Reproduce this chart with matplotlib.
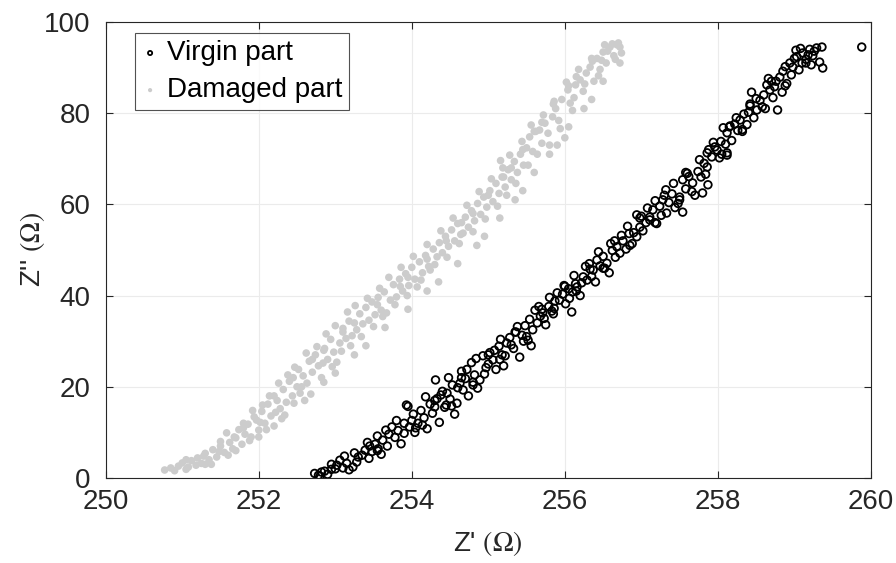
import matplotlib.pyplot as plt

plt.rcParams["font.family"] = ["Liberation Sans", "DejaVu Sans"]
plt.rcParams["mathtext.fontset"] = "stix"

# (Z', Z'') readings for the virgin part
virgin_pts = [
    (252.73, 1.0), (252.78, 0.6), (252.82, 1.3), (252.86, 1.5), (252.80, 0.4), (252.90, 0.8),
    (253.02, 2.8), (253.06, 3.9), (253.10, 2.2), (253.15, 3.2), (253.23, 2.4), (253.18, 1.8),
    (253.28, 3.5), (253.35, 5.0), (253.39, 6.1), (253.30, 4.6), (253.44, 4.3), (253.48, 5.8),
    (253.52, 7.4), (253.56, 6.4), (253.62, 8.3), (253.60, 5.2), (253.68, 7.0), (253.74, 11.2),
    (253.70, 9.6), (253.78, 8.9), (253.82, 10.4), (253.86, 7.5), (253.93, 16.0), (253.95, 15.7),
    (253.97, 11.2), (254.00, 12.6), (254.04, 10.0), (254.08, 12.0), (254.12, 14.8), (254.16, 13.2),
    (254.20, 10.8), (254.24, 16.2), (254.27, 14.2), (254.31, 21.5), (254.33, 17.4), (254.36, 12.2),
    (254.40, 19.0), (254.43, 15.5), (254.46, 18.6), (254.50, 17.3), (254.53, 20.4), (254.56, 14.0),
    (254.59, 16.4), (254.63, 20.8), (254.67, 19.3), (254.65, 23.4), (254.70, 21.8), (254.74, 18.0),
    (254.78, 25.3), (254.82, 22.6), (254.86, 19.7), (254.89, 21.5), (254.93, 26.8), (254.97, 24.2),
    (255.02, 27.5), (255.06, 25.9), (255.10, 23.8), (255.14, 28.9), (255.18, 27.0), (255.24, 29.6),
    (255.20, 24.6), (255.28, 30.8), (255.33, 28.4), (255.36, 32.0), (255.41, 26.5), (255.44, 31.3),
    (255.48, 33.4), (255.52, 30.2), (255.58, 32.5), (255.61, 36.8), (255.64, 34.0), (255.68, 35.5),
    (255.71, 36.2), (255.75, 33.6), (255.79, 37.6), (255.83, 36.6), (255.87, 38.8), (255.93, 39.0),
    (255.97, 40.3), (256.01, 38.2), (256.05, 41.5), (256.09, 36.4), (256.10, 40.8), (256.14, 42.6),
    (256.16, 41.9), (256.20, 40.0), (256.24, 44.1), (256.29, 43.4), (256.33, 45.8), (256.37, 45.6),
    (256.40, 43.0), (256.42, 47.8), (256.46, 46.5), (256.50, 48.6), (256.55, 47.1), (256.58, 45.0),
    (256.62, 49.9), (256.68, 50.7), (256.72, 49.3), (256.76, 52.0), (256.80, 50.2), (256.84, 53.6),
    (256.88, 51.4), (256.94, 52.9), (256.94, 57.7), (256.98, 55.0), (257.02, 54.2), (257.06, 56.0),
    (257.11, 56.6), (257.11, 57.2), (257.15, 58.8), (257.20, 55.8), (257.24, 59.6), (257.28, 61.0),
    (257.33, 58.1), (257.36, 60.4), (257.40, 62.3), (257.44, 59.3), (257.50, 61.6), (257.54, 58.3),
    (257.54, 65.4), (257.58, 63.4), (257.62, 66.1), (257.67, 64.7), (257.70, 62.0), (257.74, 67.2),
    (257.80, 62.5), (257.82, 69.0), (257.86, 68.2), (257.87, 64.3), (257.86, 71.3), (257.92, 70.4),
    (257.96, 72.6), (257.99, 71.9), (258.04, 73.8), (258.07, 76.8), (258.12, 71.3), (258.12, 70.8),
    (258.12, 75.7), (258.18, 74.0), (258.22, 77.6), (258.26, 76.2), (258.29, 78.5), (258.34, 79.8),
    (258.38, 77.5), (258.42, 81.6), (258.44, 84.6), (258.47, 79.0), (258.51, 80.7), (258.55, 82.8),
    (258.60, 84.0), (258.64, 86.2), (258.68, 85.1), (258.72, 83.4), (258.76, 87.0), (258.78, 80.7),
    (258.81, 87.9), (258.85, 89.2), (258.90, 86.5), (258.94, 91.0), (258.98, 90.1), (259.03, 92.4),
    (259.06, 89.5), (259.11, 93.2), (259.15, 91.8), (259.20, 94.0), (259.24, 92.6), (259.29, 94.3),
    (259.36, 94.5), (259.33, 91.2), (259.37, 89.9), (259.88, 94.5),
    (252.95, 1.9), (253.12, 4.8), (253.25, 5.5), (253.42, 7.8), (253.55, 9.2), (253.66, 10.5),
    (253.80, 12.6), (253.90, 9.8), (254.02, 14.0), (254.14, 11.6), (254.18, 17.8), (254.30, 15.6),
    (254.38, 18.2), (254.48, 22.0), (254.52, 15.8), (254.60, 19.8), (254.72, 23.8), (254.80, 20.4),
    (254.84, 26.2), (254.95, 22.8), (255.00, 25.0), (255.08, 28.0), (255.16, 30.4), (255.22, 26.8),
    (255.30, 29.2), (255.38, 33.2), (255.46, 30.0), (255.54, 34.8), (255.56, 29.0), (255.66, 37.6),
    (255.73, 35.0), (255.80, 39.6), (255.86, 37.2), (255.90, 40.6), (255.99, 42.2), (256.06, 39.4),
    (256.12, 44.4), (256.22, 42.8), (256.27, 46.4), (256.35, 44.2), (256.44, 49.6), (256.52, 46.0),
    (256.60, 51.4), (256.66, 48.4), (256.74, 53.2), (256.82, 55.2), (256.90, 53.8), (257.00, 57.4),
    (257.08, 59.2), (257.18, 60.8), (257.26, 57.6), (257.32, 63.2), (257.42, 64.6), (257.48, 60.2),
    (257.60, 66.8), (257.66, 62.8), (257.76, 69.8), (257.84, 66.6), (257.94, 73.6), (258.02, 70.2),
    (258.10, 73.2), (258.16, 77.2), (258.24, 79.0), (258.32, 76.4), (258.40, 80.2), (258.50, 83.2),
    (258.58, 81.4), (258.66, 87.6), (258.74, 85.8), (258.84, 84.6), (258.88, 90.2), (258.96, 88.4),
    (259.02, 93.8), (259.10, 91.0), (259.18, 92.8), (259.26, 93.6), (259.08, 94.2), (259.22, 90.6),
    (252.95, 3.0), (253.45, 7.0), (253.90, 12.0), (254.30, 17.0), (254.65, 22.0), (255.00, 27.0),
    (255.35, 32.0), (255.70, 37.0), (256.00, 42.0), (256.32, 47.0), (256.65, 52.0), (256.98, 57.0),
    (257.30, 62.0), (257.58, 67.0), (257.88, 72.0), (258.15, 77.0), (258.42, 82.0), (258.70, 87.0),
    (259.00, 92.0), (253.00, 2.0), (253.55, 6.0), (254.05, 11.0), (254.45, 16.0), (254.80, 21.0),
    (255.15, 26.0), (255.50, 31.0), (255.85, 36.0), (256.15, 41.0), (256.50, 46.0), (256.85, 51.0),
    (257.18, 56.0), (257.50, 61.0), (257.78, 66.0), (258.05, 71.0), (258.32, 76.0), (258.62, 81.0),
    (258.88, 86.0), (259.15, 91.0),
]

# (Z', Z'') readings for the damaged part
damaged_pts = [
    (250.77, 1.75), (250.85, 2.2), (250.95, 2.6), (251.00, 3.3), (251.08, 2.4), (251.12, 3.8),
    (251.20, 4.4), (251.25, 3.2), (251.30, 5.4), (251.35, 4.0), (251.40, 6.2), (251.45, 4.6),
    (251.50, 7.0), (251.55, 5.6), (251.58, 9.9), (251.62, 7.8), (251.66, 6.4), (251.70, 8.8),
    (251.74, 10.6), (251.78, 7.4), (251.82, 9.6), (251.86, 11.8), (251.90, 9.0), (251.94, 13.4),
    (251.97, 12.7), (252.00, 10.5), (252.04, 14.6), (252.08, 12.0), (252.12, 16.2), (252.16, 13.6),
    (252.20, 11.4), (252.24, 17.0), (252.28, 15.2), (252.32, 19.4), (252.36, 16.6), (252.40, 21.2),
    (252.44, 18.0), (252.47, 24.3), (252.50, 20.0), (252.54, 18.6), (252.58, 22.4), (252.63, 20.8),
    (252.66, 25.6), (252.70, 23.2), (252.74, 27.0), (252.78, 24.6), (252.82, 22.0), (252.86, 28.4),
    (252.90, 26.0), (252.94, 30.4), (252.98, 27.6), (253.02, 25.4), (253.06, 29.6), (253.10, 32.8),
    (253.14, 30.6), (253.18, 34.4), (253.22, 31.2), (253.28, 32.5), (253.32, 36.0), (253.36, 33.8),
    (253.40, 37.4), (253.44, 34.6), (253.48, 38.6), (253.52, 35.8), (253.56, 39.6), (253.60, 36.8),
    (253.64, 40.8), (253.67, 36.2), (253.72, 39.0), (253.76, 42.4), (253.80, 39.7), (253.84, 43.6),
    (253.88, 41.0), (253.92, 44.8), (253.96, 42.2), (254.00, 46.2), (254.04, 43.6), (254.07, 41.9),
    (254.10, 47.4), (254.14, 45.0), (254.18, 48.8), (254.22, 46.4), (254.24, 45.6), (254.28, 50.2),
    (254.33, 48.5), (254.36, 51.6), (254.40, 49.4), (254.44, 53.0), (254.48, 50.8), (254.52, 54.4),
    (254.56, 52.0), (254.60, 55.8), (254.64, 53.4), (254.67, 53.7), (254.70, 57.2), (254.74, 55.0),
    (254.78, 58.6), (254.82, 56.4), (254.86, 60.2), (254.90, 57.8), (254.94, 61.6), (254.98, 59.4),
    (255.02, 63.0), (255.06, 60.6), (255.10, 64.6), (255.14, 62.4), (255.19, 68.0), (255.18, 66.0),
    (255.22, 63.8), (255.26, 67.6), (255.30, 65.4), (255.34, 69.4), (255.38, 67.0), (255.42, 71.0),
    (255.46, 68.6), (255.50, 72.4), (255.54, 74.8), (255.58, 71.6), (255.62, 76.0), (255.67, 76.3),
    (255.70, 73.4), (255.74, 77.8), (255.78, 75.6), (255.84, 79.2), (255.88, 81.0), (255.92, 78.4),
    (255.96, 83.0), (256.00, 74.6), (256.04, 85.1), (256.07, 82.2), (256.10, 80.6), (256.14, 86.2),
    (256.20, 87.3), (256.24, 84.8), (256.28, 88.8), (256.33, 90.1), (256.38, 87.0), (256.42, 92.0),
    (256.46, 89.6), (256.50, 93.4), (256.54, 91.0), (256.59, 94.5), (256.64, 92.6), (256.68, 95.0),
    (256.72, 94.5), (256.74, 93.2), (256.62, 95.2), (256.52, 95.0),
    (250.90, 1.6), (251.05, 1.9), (251.18, 2.8), (251.28, 4.8), (251.38, 3.0), (251.48, 5.8),
    (251.60, 5.0), (251.68, 9.0), (251.80, 11.0), (251.88, 8.2), (251.92, 14.8), (252.02, 12.2),
    (252.10, 10.6), (252.14, 18.0), (252.22, 14.4), (252.26, 20.8), (252.34, 13.8), (252.38, 22.6),
    (252.46, 16.4), (252.52, 23.8), (252.56, 20.0), (252.62, 27.4), (252.68, 18.4), (252.76, 28.8),
    (252.84, 25.2), (252.88, 31.6), (252.96, 24.4), (253.00, 33.4), (253.08, 27.8), (253.16, 36.4),
    (253.20, 29.0), (253.26, 37.8), (253.34, 31.0), (253.42, 39.4), (253.50, 33.2), (253.58, 41.6),
    (253.62, 35.4), (253.70, 44.0), (253.78, 38.0), (253.86, 46.2), (253.94, 40.0), (254.02, 48.6),
    (254.12, 43.4), (254.20, 51.2), (254.30, 46.8), (254.38, 54.2), (254.46, 48.4), (254.54, 57.0),
    (254.62, 51.4), (254.72, 59.8), (254.80, 54.0), (254.88, 62.8), (254.96, 56.8), (255.04, 65.6),
    (255.12, 59.6), (255.16, 69.6), (255.24, 62.0), (255.28, 70.8), (255.36, 64.6), (255.44, 73.8),
    (255.52, 68.6), (255.56, 77.4), (255.64, 71.0), (255.72, 79.6), (255.80, 73.0), (255.86, 82.6),
    (255.94, 76.6), (256.02, 86.8), (256.12, 83.4), (256.18, 89.6), (256.26, 86.4), (256.36, 91.4),
    (256.44, 88.2), (256.56, 93.6), (256.66, 91.8), (256.70, 95.4), (256.48, 91.6),
    (251.05, 4.0), (251.50, 8.0), (251.80, 12.0), (252.05, 16.0), (252.20, 18.0), (252.45, 22.0),
    (252.70, 26.0), (252.85, 28.0), (253.10, 32.0), (253.25, 34.0), (253.55, 38.0), (253.85, 42.0),
    (253.95, 44.0), (254.20, 48.0), (254.45, 52.0), (254.65, 56.0), (254.80, 58.0), (255.00, 62.0),
    (255.20, 66.0), (255.30, 68.0), (255.45, 72.0), (255.60, 76.0), (255.70, 78.0), (255.85, 82.0),
    (256.05, 86.0), (256.15, 88.0), (256.35, 92.0),
    (251.30, 3.0), (251.70, 6.0), (252.00, 9.0), (252.30, 13.0), (252.60, 17.0), (252.85, 21.0),
    (253.00, 23.0), (253.25, 27.0), (253.40, 29.0), (253.65, 33.0), (253.95, 37.0), (254.20, 41.0),
    (254.35, 43.0), (254.60, 47.0), (254.85, 51.0), (254.95, 53.0), (255.15, 57.0), (255.35, 61.0),
    (255.45, 63.0), (255.60, 67.0), (255.80, 71.0), (255.90, 73.0), (256.05, 77.0), (256.25, 81.0),
    (256.35, 83.0), (256.50, 87.0), (256.72, 91.0),
]

x_ticks = [250, 252, 254, 256, 258, 260]
y_ticks = [0, 20, 40, 60, 80, 100]

AX_COLOR = (0.15, 0.15, 0.15)

fig = plt.figure(figsize=(8.96, 5.63), dpi=100)
ax = fig.add_axes([0.118, 0.151, 0.854, 0.810])

vx, vy = zip(*virgin_pts)
dx, dy = zip(*damaged_pts)

ax.scatter(vx, vy, s=30, facecolors="none", edgecolors="black", linewidths=1.3,
           label="Virgin part", zorder=3)
ax.scatter(dx, dy, s=30, color=(0.8, 0.8, 0.8), edgecolors="none",
           label="Damaged part", zorder=2)

ax.set_xlim(250, 260)
ax.set_ylim(0, 100)
ax.set_xticks(x_ticks)
ax.set_yticks(y_ticks)
ax.grid(True, color=(0.92, 0.92, 0.92), linewidth=0.8)
ax.set_axisbelow(True)
for s in ax.spines.values():
    s.set_color(AX_COLOR)
    s.set_linewidth(0.8)
ax.tick_params(direction="in", top=True, right=True, length=5, width=0.8,
               colors=AX_COLOR, labelsize=20)
ax.tick_params(axis="x", pad=8)
ax.tick_params(axis="y", pad=11)

ax.set_xlabel("Z' $(\\Omega)$", fontsize=20, color=AX_COLOR, labelpad=10)
ax.set_ylabel("Z'' $(\\Omega)$", fontsize=20, color=AX_COLOR, labelpad=-2)

leg = ax.legend(loc="upper left", bbox_to_anchor=(0.038, 0.975), fontsize=20,
                frameon=True, fancybox=False, edgecolor=AX_COLOR, markerscale=0.55,
                handlelength=0.6, handletextpad=0.3, borderpad=0.25, labelspacing=0.4,
                borderaxespad=0)
leg.get_frame().set_linewidth(0.8)

fig.savefig("out.png", dpi=100)
